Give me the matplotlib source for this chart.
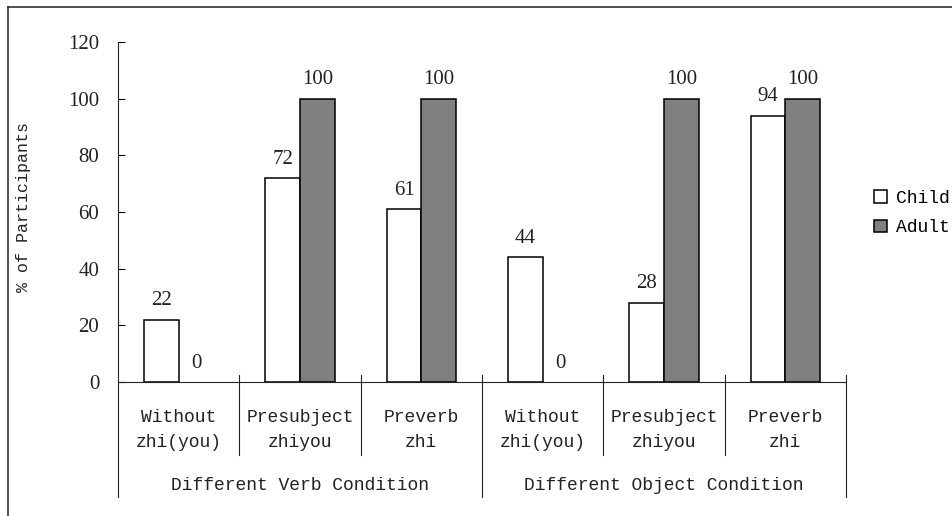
import matplotlib
matplotlib.use("Agg")
import matplotlib.pyplot as plt
from matplotlib.lines import Line2D
from matplotlib.patches import Patch
import matplotlib.transforms as mtransforms
import numpy as np

categories = ["Without\nzhi(you)", "Presubject\nzhiyou", "Preverb\nzhi",
              "Without\nzhi(you)", "Presubject\nzhiyou", "Preverb\nzhi"]
groups = ["Different Verb Condition", "Different Object Condition"]
child = [22, 72, 61, 44, 28, 94]
adult = [0, 100, 100, 0, 100, 100]
series_names = ["Child", "Adult"]
yticks = [0, 20, 40, 60, 80, 100, 120]

W, H = 953, 516
fig = plt.figure(figsize=(W / 100, H / 100), dpi=100)
ax = fig.add_axes([118 / W, (H - 382) / H, (846 - 118) / W, 340 / H])

mono = "Liberation Mono"
serif = "Liberation Serif"

x = np.arange(len(categories))
w = 0.2857
b1 = ax.bar(x - w / 2, child, w, color="white", edgecolor="black", linewidth=1.1, label=series_names[0])
b2 = ax.bar(x + w / 2, adult, w, color="#808080", edgecolor="black", linewidth=1.1, label=series_names[1])

for bars, vals in ((b1, child), (b2, adult)):
    for r, v in zip(bars, vals):
        if v == 0:
            r.set_linewidth(0)
        ax.annotate(str(v), (r.get_x() + r.get_width() / 2, v), xytext=(0, 19),
                    textcoords="offset pixels", ha="center", va="center",
                    fontfamily=serif, fontsize=15, color="#222222")

ax.set_xlim(-0.5, len(categories) - 0.5)
ax.set_ylim(0, 120)
ax.set_yticks(yticks)
ax.set_yticklabels([str(t) for t in yticks], fontfamily=serif, fontsize=15, color="#222222")
ax.tick_params(axis="y", direction="in", length=5, width=0.8, pad=13.5)
ax.set_xticks([])
for s in ["top", "right"]:
    ax.spines[s].set_visible(False)
for s in ["left", "bottom"]:
    ax.spines[s].set_linewidth(0.8)
    ax.spines[s].set_color("#222222")

trans = mtransforms.blended_transform_factory(ax.transData, ax.transAxes)
# separators
n = len(categories)
for i in range(n + 1):
    xb = i - 0.5
    if i % 3 == 0:
        y0, y1 = 0.0206, -0.338
        if i == 0:
            y0 = 0
    else:
        y0, y1 = 0.0206, -0.2147
    ax.plot([xb, xb], [y0, y1], transform=trans, color="#222222", lw=0.8, clip_on=False)

# category labels
for i, lab in enumerate(categories):
    l1, l2 = lab.split("\n")
    ax.text(i, -0.103, l1, transform=trans, ha="center", va="center",
            fontfamily=mono, fontsize=13, color="#222222")
    ax.text(i, -0.179, l2, transform=trans, ha="center", va="center",
            fontfamily=mono, fontsize=13, color="#222222")
for g, name in enumerate(groups):
    ax.text(g * 3 + 1, -0.303, name, transform=trans, ha="center", va="center",
            fontfamily=mono, fontsize=13, color="#222222")

fig.text(24 / W, 1 - 207 / H, "% of Participants", rotation=90, ha="center", va="center",
         fontfamily=mono, fontsize=12, color="#222222")

handles = [Patch(facecolor="white", edgecolor="black", linewidth=1.1),
           Patch(facecolor="#808080", edgecolor="black", linewidth=1.1)]
fig.legend(handles, series_names, loc="center left", bbox_to_anchor=(874 / W, 1 - 213 / H),
           frameon=False, borderpad=0, borderaxespad=0, handlelength=0.72, handleheight=0.72,
           handletextpad=0.5, labelspacing=0.7, prop={"family": mono, "size": 13})

# outer border (left and top visible)
fig.add_artist(Line2D([8.5 / W, 8.5 / W], [0, 1 - 6.5 / H], transform=fig.transFigure, color="#222222", lw=1.1))
fig.add_artist(Line2D([8.5 / W, 1], [1 - 6.5 / H, 1 - 6.5 / H], transform=fig.transFigure, color="#222222", lw=1.1))

fig.savefig("out.png", dpi=100)
